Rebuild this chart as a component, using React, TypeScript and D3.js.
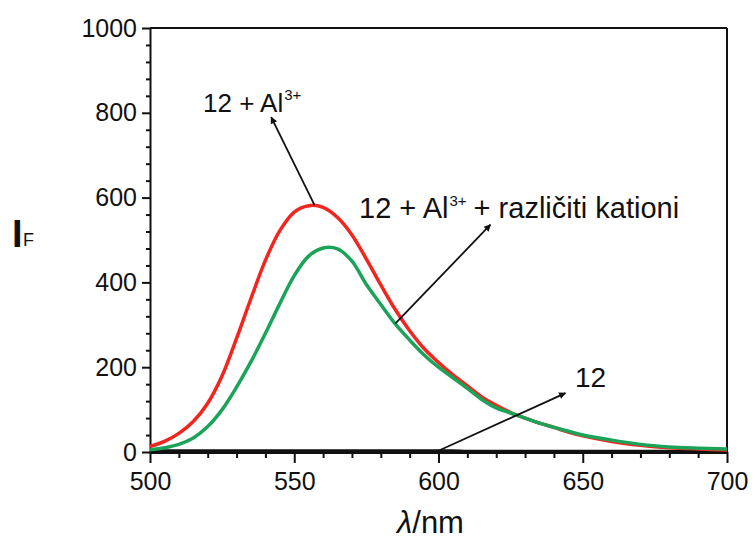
import * as d3 from 'd3'
import { useEffect, useRef } from 'react'

const WAVELENGTHS = [
  500, 505, 510, 515, 520, 525, 530, 535, 540, 545, 550, 555, 560, 565, 570, 575, 580, 585, 590, 595,
  600, 605, 610, 615, 620, 625, 630, 635, 640, 645, 650, 660, 670, 680, 690, 700,
]
const AL_VALUES = [
  13, 25, 44, 72, 115, 180, 268, 362, 452, 522, 566, 581, 577, 553, 512, 455, 394, 336, 286, 244,
  211, 182, 156, 130, 110, 93, 80, 68, 58, 47, 38, 25, 16, 10, 7, 5,
]
const MIX_VALUES = [
  5, 10, 18, 33, 60, 100, 153, 213, 280, 350, 416, 462, 481, 479, 450, 395, 348, 302, 264, 229,
  200, 175, 150, 124, 104, 92, 80, 68, 58, 49, 40, 28, 18, 12, 9, 7,
]
const FREE_VALUES = [
  3, 3, 3, 3, 3, 3, 3, 3, 3, 3, 3, 3, 3, 3, 3, 3, 3, 3, 3, 3,
  3, 3, 2, 2, 2, 2, 2, 2, 2, 2, 2, 2, 2, 2, 2, 2,
]
const X_TICKS = [500, 550, 600, 650, 700]
const Y_TICKS = [0, 200, 400, 600, 800, 1000]

const FONT = '"Liberation Sans", Arial, sans-serif'
const RED = '#f0261f'
const GREEN = '#1ba459'

export default function App() {
  const ref = useRef<SVGSVGElement | null>(null)
  const width = 755
  const height = 541

  useEffect(() => {
    const svgEl = ref.current
    if (!svgEl) return
    const svg = d3.select(svgEl)
    svg.selectAll('*').remove()

    const left = 150
    const right = 727
    const top = 28
    const bottom = 452
    const x = d3.scaleLinear().domain([500, 700]).range([left, right])
    const y = d3.scaleLinear().domain([0, 1000]).range([bottom, top])

    // frame
    svg.append('line').attr('x1', left).attr('x2', right).attr('y1', top).attr('y2', top)
      .attr('stroke', '#111').attr('stroke-width', 2)
    svg.append('line').attr('x1', right).attr('x2', right).attr('y1', top).attr('y2', bottom)
      .attr('stroke', '#111').attr('stroke-width', 2)

    // minor ticks
    const xMinor = d3.range(510, 700, 10).filter((v) => v % 50 !== 0)
    const yMinor = d3.range(40, 1000, 40).filter((v) => v % 200 !== 0)
    svg.append('g').attr('transform', `translate(0,${bottom})`)
      .call(d3.axisBottom(x).tickValues(xMinor).tickSize(6).tickFormat(() => ''))
      .call((g) => g.select('.domain').remove())
      .call((g) => g.selectAll('line').attr('stroke', '#111').attr('stroke-width', 2))
    svg.append('g').attr('transform', `translate(${left},0)`)
      .call(d3.axisLeft(y).tickValues(yMinor).tickSize(4).tickFormat(() => ''))
      .call((g) => g.select('.domain').remove())
      .call((g) => g.selectAll('line').attr('stroke', '#111').attr('stroke-width', 2))

    // major axes
    svg.append('g').attr('transform', `translate(0,${bottom})`)
      .call(d3.axisBottom(x).tickValues(X_TICKS).tickSize(11).tickSizeOuter(0).tickPadding(9)
        .tickFormat((d) => String(d)))
      .call((g) => g.select('.domain').attr('stroke', '#111').attr('stroke-width', 3))
      .call((g) => g.selectAll('line').attr('stroke', '#111').attr('stroke-width', 2))
      .call((g) => g.selectAll('text').attr('font-size', 25).attr('font-family', FONT).attr('fill', '#111'))
    svg.append('g').attr('transform', `translate(${left},0)`)
      .call(d3.axisLeft(y).tickValues(Y_TICKS).tickSize(8).tickSizeOuter(0).tickPadding(5)
        .tickFormat((d) => String(d)))
      .call((g) => g.select('.domain').attr('stroke', '#111').attr('stroke-width', 2))
      .call((g) => g.selectAll('line').attr('stroke', '#111').attr('stroke-width', 2))
      .call((g) => g.selectAll('text').attr('font-size', 25).attr('font-family', FONT).attr('fill', '#111'))

    const line = d3.line<number>()
      .x((_, i) => x(WAVELENGTHS[i]))
      .y((d) => y(d))
      .curve(d3.curveCatmullRom.alpha(0.5))

    svg.append('path').attr('d', line(FREE_VALUES)).attr('fill', 'none')
      .attr('stroke', '#111').attr('stroke-width', 3)
    svg.append('path').attr('d', line(AL_VALUES)).attr('fill', 'none')
      .attr('stroke', RED).attr('stroke-width', 3.5)
    svg.append('path').attr('d', line(MIX_VALUES)).attr('fill', 'none')
      .attr('stroke', GREEN).attr('stroke-width', 3.5)

    // arrows
    svg.append('defs').append('marker')
      .attr('id', 'arrowhead').attr('viewBox', '0 0 10 10').attr('refX', 9).attr('refY', 5)
      .attr('markerWidth', 10).attr('markerHeight', 7).attr('markerUnits', 'userSpaceOnUse')
      .attr('orient', 'auto')
      .append('path').attr('d', 'M0,0 L10,5 L0,10 Z').attr('fill', '#111')

    const arrows: [number, number, number, number][] = [
      [557, 583, 542, 790],
      [585, 303, 618, 536],
      [600, 3, 644, 139],
    ]
    for (const [x0, y0, x1, y1] of arrows) {
      svg.append('line')
        .attr('x1', x(x0)).attr('y1', y(y0)).attr('x2', x(x1)).attr('y2', y(y1))
        .attr('stroke', '#111').attr('stroke-width', 1.8).attr('marker-end', 'url(#arrowhead)')
    }

    const label = (tx: number, ty: number, size: number, after: string) => {
      const t = svg.append('text').attr('x', tx).attr('y', ty).attr('font-family', FONT)
        .attr('font-size', size).attr('fill', '#111')
      t.append('tspan').text('12 + Al')
      t.append('tspan').attr('font-size', 15).attr('dy', -12).attr('dx', 1).text('3+')
      if (after) t.append('tspan').attr('dy', 12).attr('dx', 7).text(after)
    }
    label(203, 112, 26, '')
    label(359, 218, 29, '+ različiti kationi')

    svg.append('text').attr('x', 575).attr('y', 387).attr('font-family', FONT)
      .attr('font-size', 28).attr('fill', '#111').text('12')

    svg.append('text').attr('x', 12).attr('y', 247).attr('font-family', FONT)
      .attr('font-size', 38).attr('font-weight', 'bold').attr('fill', '#111').text('I')
    svg.append('text').attr('x', 23).attr('y', 246).attr('font-family', FONT)
      .attr('font-size', 18).attr('fill', '#111').text('F')

    svg.append('text').attr('x', 397).attr('y', 533).attr('font-family', FONT)
      .attr('font-size', 31).attr('fill', '#111')
      .call((t) => t.append('tspan').attr('font-style', 'italic').text('λ'))
      .call((t) => t.append('tspan').text('/nm'))
  }, [])

  return (
    <svg
      ref={ref}
      width={width}
      height={height}
      style={{ position: 'absolute', left: 0, top: 0, background: '#fff' }}
    />
  )
}
